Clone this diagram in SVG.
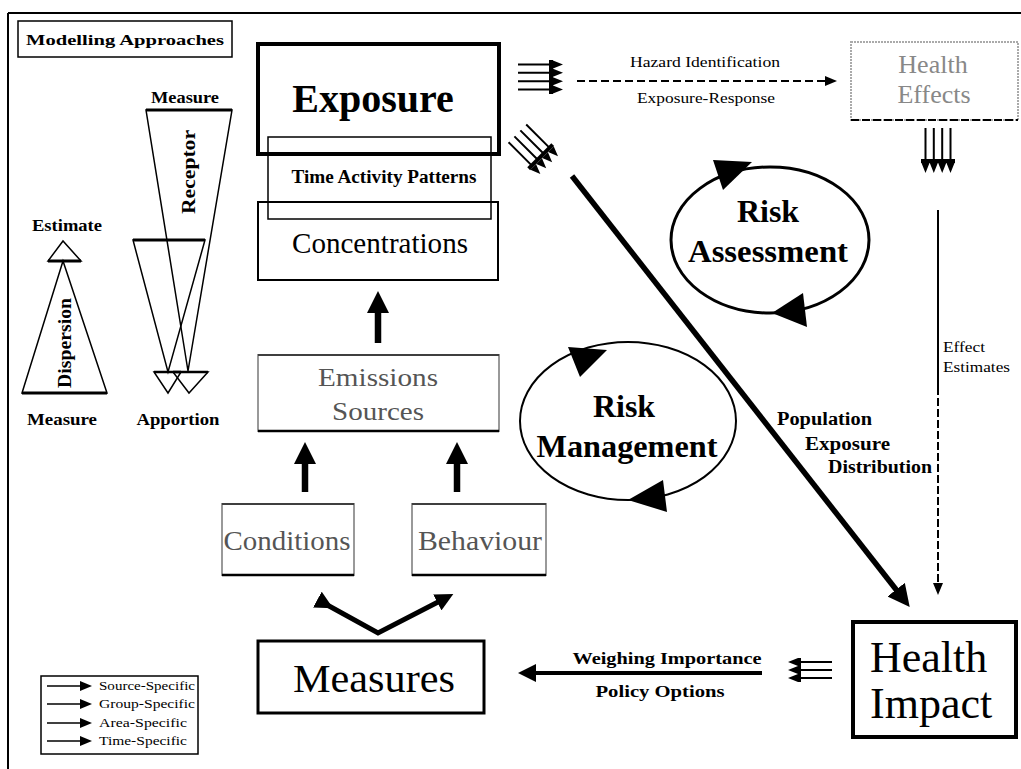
<svg xmlns="http://www.w3.org/2000/svg" width="1021" height="769" viewBox="0 0 1021 769">
<defs>
<style>
.t{font-family:"Liberation Serif","Times New Roman",serif;fill:#000}
.b{font-weight:bold}
.c{text-anchor:middle}
.ln{fill:none;stroke:#000;stroke-width:1.5}
.bx{fill:none;stroke:#000}
.gbx{fill:none;stroke:#999;stroke-width:2}
.thick{fill:none;stroke:#000;stroke-width:6.5}
.arr{fill:none;stroke:#000}
</style>
<marker id="big" markerUnits="userSpaceOnUse" markerWidth="22" markerHeight="22" refX="3" refY="11" orient="auto" viewBox="0 0 22 22"><path d="M0,0 L22,11 L0,22 z"/></marker>
<marker id="med" markerUnits="userSpaceOnUse" markerWidth="18" markerHeight="18" refX="3" refY="9" orient="auto" viewBox="0 0 18 18"><path d="M0,0 L18,9 L0,18 z"/></marker>
<marker id="sm" markerUnits="userSpaceOnUse" markerWidth="12" markerHeight="10" refX="1" refY="5" orient="auto" viewBox="0 0 12 10"><path d="M0,0 L12,5 L0,10 z"/></marker>
<g id="fan4"><path d="M-32,-12.5H0M-32,-4.2H0M-32,4.2H0M-32,12.5H0" stroke="#000" stroke-width="2" fill="none"/><rect x="-1" y="-17" width="4" height="34"/><path d="M3,-16.5L13,-12.5L3,-8.5zM3,-8.2L13,-4.2L3,-0.2zM3,0.2L13,4.2L3,8.2zM3,8.5L13,12.5L3,16.5z"/></g>
<g id="fan3"><path d="M-32,-8H0M-32,0H0M-32,8H0" stroke="#000" stroke-width="2" fill="none"/><rect x="-1" y="-12" width="3" height="24"/><path d="M2,-12L12,-8L2,-4zM2,-4L12,0L2,4zM2,4L12,8L2,12z"/></g>
</defs>

<!-- frame -->
<g id="frame"><path d="M8,13H1021M8,13V769" stroke="#000" stroke-width="2" fill="none"/></g>

<!-- modelling approaches -->
<g id="modelling-approaches">
<rect x="18" y="21" width="214" height="36" class="bx" stroke-width="1.5"/>
<text x="125" y="45" class="t b c" font-size="15" textLength="198" lengthAdjust="spacingAndGlyphs">Modelling Approaches</text>
</g>

<g id="receptor">
<polygon points="146,110 232,110 188,371" class="ln"/>
<line x1="146" y1="110" x2="232" y2="110" stroke="#000" stroke-width="3"/>
<text x="185" y="103" class="t b c" font-size="17" textLength="68" lengthAdjust="spacingAndGlyphs">Measure</text>
<text transform="translate(189,172) rotate(-90)" y="6" class="t b c" font-size="18" textLength="84" lengthAdjust="spacingAndGlyphs">Receptor</text>
<polygon points="173,372 208,372 189,393" class="ln"/>
<line x1="173" y1="372" x2="208" y2="372" stroke="#000" stroke-width="2.5"/>
</g>

<g id="apportion">
<polygon points="133,240 205,240 168,372" class="ln"/>
<line x1="133" y1="240" x2="205" y2="240" stroke="#000" stroke-width="3"/>
<polygon points="154,372 181,372 168,393" class="ln"/>
<line x1="154" y1="372" x2="181" y2="372" stroke="#000" stroke-width="2.5"/>
<text x="178" y="425" class="t b c" font-size="17" textLength="83" lengthAdjust="spacingAndGlyphs">Apportion</text>
</g>

<g id="dispersion">
<text x="67" y="231" class="t b c" font-size="17" textLength="70" lengthAdjust="spacingAndGlyphs">Estimate</text>
<polygon points="48,261 81,261 63,241" class="ln"/>
<line x1="48" y1="261" x2="81" y2="261" stroke="#000" stroke-width="3"/>
<polygon points="63,261 22,393 107,393" class="ln"/>
<line x1="22" y1="393" x2="107" y2="393" stroke="#000" stroke-width="3"/>
<text transform="translate(65,343) rotate(-90)" y="6" class="t b c" font-size="18" textLength="90" lengthAdjust="spacingAndGlyphs">Dispersion</text>
<text x="62" y="425" class="t b c" font-size="17" textLength="70" lengthAdjust="spacingAndGlyphs">Measure</text>
</g>

<!-- exposure stack -->
<g id="exposure">
<rect x="258" y="44" width="241" height="110" class="bx" stroke-width="4"/>
<text x="373" y="112" class="t b c" font-size="40">Exposure</text>
</g>
<g id="time-activity">
<rect x="268" y="137" width="223" height="82" class="bx" stroke-width="1.5"/>
<text x="384" y="183" class="t b c" font-size="18" textLength="185" lengthAdjust="spacingAndGlyphs">Time Activity Patterns</text>
</g>
<g id="concentrations">
<rect x="258" y="202" width="240" height="78" class="bx" stroke-width="2"/>
<text x="380" y="253" class="t c" font-size="29" textLength="176" lengthAdjust="spacingAndGlyphs">Concentrations</text>
</g>
<g id="emissions">
<rect x="258" y="355" width="241" height="76" class="gbx"/>
<line x1="258" y1="355" x2="499" y2="355" stroke="#222" stroke-width="1.5"/>
<line x1="258" y1="431" x2="499" y2="431" stroke="#000" stroke-width="2.5"/>
<text x="378" y="386" class="t c" font-size="26" style="fill:#555" textLength="120" lengthAdjust="spacingAndGlyphs">Emissions</text>
<text x="378" y="420" class="t c" font-size="26" style="fill:#555" textLength="92" lengthAdjust="spacingAndGlyphs">Sources</text>
</g>
<g id="conditions">
<rect x="222" y="504" width="132" height="71" class="gbx"/>
<line x1="222" y1="504" x2="354" y2="504" stroke="#222" stroke-width="1.5"/>
<line x1="222" y1="575" x2="354" y2="575" stroke="#000" stroke-width="2.5"/>
<text x="287" y="550" class="t c" font-size="27" style="fill:#555" textLength="127" lengthAdjust="spacingAndGlyphs">Conditions</text>
</g>
<g id="behaviour">
<rect x="412" y="504" width="134" height="71" class="gbx"/>
<line x1="412" y1="504" x2="546" y2="504" stroke="#222" stroke-width="1.5"/>
<line x1="412" y1="575" x2="546" y2="575" stroke="#000" stroke-width="2.5"/>
<text x="480" y="550" class="t c" font-size="27" style="fill:#555" textLength="124" lengthAdjust="spacingAndGlyphs">Behaviour</text>
</g>
<g id="measures">
<rect x="258" y="641" width="226" height="72" class="bx" stroke-width="3"/>
<text x="374" y="692" class="t c" font-size="40" textLength="162" lengthAdjust="spacingAndGlyphs">Measures</text>
</g>

<!-- health effects -->
<g id="health-effects">
<rect x="851" y="42" width="167" height="78" fill="none" stroke="#aaa" stroke-width="2" stroke-dasharray="2 1"/>
<line x1="851" y1="120" x2="1018" y2="120" stroke="#000" stroke-width="2" stroke-dasharray="8 3"/>
<text x="933" y="73" class="t c" font-size="26" style="fill:#888">Health</text>
<text x="934" y="103" class="t c" font-size="26" style="fill:#888">Effects</text>
</g>

<!-- health impact -->
<g id="health-impact">
<rect x="853" y="622" width="163" height="115" class="bx" stroke-width="4"/>
<text x="870" y="672" class="t" font-size="44">Health</text>
<text x="870" y="718" class="t" font-size="44">Impact</text>
</g>

<!-- risk assessment -->
<g id="risk-assessment">
<ellipse cx="770" cy="240" rx="99" ry="73" class="bx" stroke-width="3"/>
<polygon points="752,162 713,160 723,190"/>
<polygon points="772,313 803,293 807,327"/>
<text x="768" y="222" class="t b c" font-size="32">Risk</text>
<text x="768" y="262" class="t b c" font-size="32" textLength="160" lengthAdjust="spacingAndGlyphs">Assessment</text>
</g>

<!-- risk management -->
<g id="risk-management">
<ellipse cx="628" cy="421" rx="108" ry="79" class="bx" stroke-width="2"/>
<polygon points="607,350 568,347 580,377"/>
<polygon points="628,500 663,480 667,512"/>
<text x="624" y="417" class="t b c" font-size="32">Risk</text>
<text x="627" y="457" class="t b c" font-size="32" textLength="181" lengthAdjust="spacingAndGlyphs">Management</text>
</g>

<!-- legend -->
<g id="legend">
<rect x="41" y="676" width="157" height="78" class="bx" stroke-width="1.5"/>
<g stroke="#000" stroke-width="1.5" marker-end="url(#sm)">
<line x1="47" y1="686" x2="81" y2="686"/>
<line x1="47" y1="704" x2="81" y2="704"/>
<line x1="47" y1="723" x2="81" y2="723"/>
<line x1="47" y1="741" x2="81" y2="741"/>
</g>
<text x="99" y="690" class="t" font-size="12" textLength="96" lengthAdjust="spacingAndGlyphs">Source-Specific</text>
<text x="99" y="708" class="t" font-size="12" textLength="96" lengthAdjust="spacingAndGlyphs">Group-Specific</text>
<text x="99" y="727" class="t" font-size="12" textLength="88" lengthAdjust="spacingAndGlyphs">Area-Specific</text>
<text x="99" y="745" class="t" font-size="12" textLength="88" lengthAdjust="spacingAndGlyphs">Time-Specific</text>
</g>

<!-- connectors -->
<g id="connectors">
<line x1="378" y1="343" x2="378" y2="310" class="thick" marker-end="url(#big)"/>
<line x1="305" y1="492" x2="305" y2="461" class="thick" marker-end="url(#big)"/>
<line x1="457" y1="492" x2="457" y2="461" class="thick" marker-end="url(#big)"/>
<path d="M320,601 L378,633 L440,601" class="arr" stroke-width="5" marker-start="url(#med)" marker-end="url(#med)"/>
<line x1="762" y1="673" x2="533" y2="673" class="arr" stroke-width="4" marker-end="url(#med)"/>
<text x="667" y="664" class="t b c" font-size="16" textLength="189" lengthAdjust="spacingAndGlyphs">Weighing Importance</text>
<text x="660" y="697" class="t b c" font-size="16" textLength="129" lengthAdjust="spacingAndGlyphs">Policy Options</text>
<use href="#fan3" transform="translate(800,670) rotate(180)"/>
<line x1="572" y1="176" x2="898" y2="592" class="arr" stroke-width="5.5" marker-end="url(#big)"/>
<text x="777" y="425" class="t b" font-size="18" textLength="95" lengthAdjust="spacingAndGlyphs">Population</text>
<text x="805" y="450" class="t b" font-size="18" textLength="85" lengthAdjust="spacingAndGlyphs">Exposure</text>
<text x="828" y="473" class="t b" font-size="18" textLength="104" lengthAdjust="spacingAndGlyphs">Distribution</text>
<use href="#fan4" transform="translate(550,77)"/>
<use href="#fan4" transform="translate(540,156) rotate(45)"/>
<line x1="577" y1="81" x2="826" y2="81" class="arr" stroke-width="2" stroke-dasharray="8 4" marker-end="url(#sm)"/>
<text x="705" y="67" class="t c" font-size="15" textLength="150" lengthAdjust="spacingAndGlyphs">Hazard Identification</text>
<text x="706" y="103" class="t c" font-size="15" textLength="138" lengthAdjust="spacingAndGlyphs">Exposure-Response</text>
<use href="#fan4" transform="translate(938,160) rotate(90)"/>
<line x1="938" y1="210" x2="938" y2="387" class="arr" stroke-width="2"/>
<line x1="938" y1="387" x2="938" y2="584" class="arr" stroke-width="2" stroke-dasharray="8 3" marker-end="url(#sm)"/>
<text x="943" y="352" class="t" font-size="15" textLength="42" lengthAdjust="spacingAndGlyphs">Effect</text>
<text x="943" y="372" class="t" font-size="15" textLength="67" lengthAdjust="spacingAndGlyphs">Estimates</text>
</g>
</svg>
